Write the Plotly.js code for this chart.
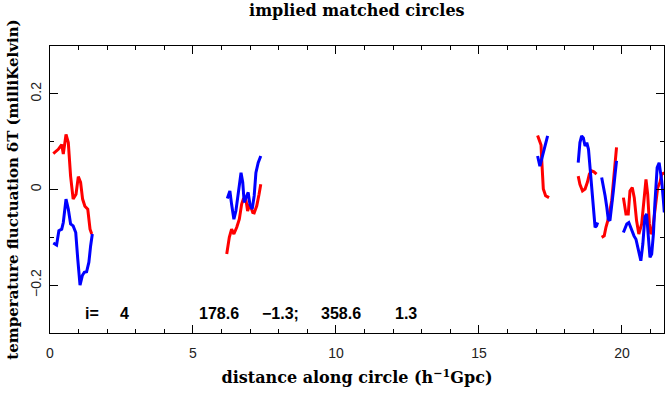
<!DOCTYPE html>
<html>
<head>
<meta charset="utf-8">
<script src="https://cdn.plot.ly/plotly-3.0.1.min.js"></script>
<style>html,body{margin:0;padding:0;background:#fff;}#chart{width:667px;height:394px;}</style>
</head>
<body>
<div id="chart"></div>
<script>
// red series (segments separated by null)
const redX = [0.115,0.29,0.41,0.465,0.56,0.64,0.72,0.81,0.91,0.99,1.07,1.14,1.22,1.32,1.40,1.46, null,
  6.18,6.27,6.35,6.43,6.53,6.62,6.70,6.76,6.84,6.91,6.99,7.09,7.14,7.23,7.31,7.37, null,
  17.05,17.17,17.19,17.21,17.25,17.33,17.45, null,
  18.47,18.53,18.62,18.71,18.79,18.86,18.94,19.02,19.11, null,
  19.29,19.38,19.44,19.52,19.64,19.73,19.81, null,
  20.05,20.14,20.22,20.28,20.36,20.43,20.51,20.59,20.69,20.78,20.84,20.90,20.96,21.01,21.07,21.15,21.25,21.33,21.39,21.48];
const redY = [0.075,0.084,0.094,0.074,0.115,0.098,0.028,-0.02,-0.01,0.027,0.015,-0.02,-0.035,-0.041,-0.083,-0.093, null,
  -0.135,-0.1,-0.083,-0.093,-0.079,-0.062,-0.031,-0.02,-0.017,-0.045,-0.031,-0.048,-0.049,-0.034,-0.01,0.011, null,
  0.113,0.093,0.067,0.032,0.001,-0.013,-0.017, null,
  0.028,0.011,-0.003,0.001,0.015,0.032,0.039,0.037,0.032, null,
  -0.1,-0.097,-0.079,-0.062,-0.024,0.032,0.088, null,
  -0.017,-0.051,-0.051,-0.003,0.004,-0.017,-0.065,-0.093,-0.072,-0.024,0.021,-0.01,-0.072,-0.093,-0.086,-0.045,0.004,0.015,0.032,0.035];

// blue series
const blueX = [0.115,0.23,0.31,0.41,0.465,0.56,0.64,0.72,0.81,0.90,0.97,1.05,1.13,1.20,1.28,1.36,1.42,1.48, null,
  6.20,6.29,6.35,6.43,6.50,6.58,6.68,6.74,6.79,6.88,6.93,6.99,7.07,7.14,7.20,7.28,7.37, null,
  17.05,17.13,17.40, null,
  18.47,18.53,18.59,18.65,18.71,18.77,18.83,18.88,18.94,19.0,19.06,19.11,19.15, null,
  19.29,19.35,19.41,19.47,19.52,19.58,19.64,19.70,19.76,19.81, null,
  20.05,20.17,20.24,20.34,20.42,20.49,20.57,20.66,20.73,20.80,20.86,20.92,20.98,21.04,21.10,21.15,21.23,21.30,21.39,21.45,21.48];
const blueY = [-0.112,-0.116,-0.086,-0.083,-0.069,-0.02,-0.041,-0.072,-0.076,-0.09,-0.145,-0.2,-0.18,-0.173,-0.172,-0.152,-0.118,-0.093, null,
  -0.019,-0.003,-0.031,-0.062,-0.045,-0.006,0.035,0.015,-0.027,-0.013,-0.006,-0.031,-0.041,-0.013,0.035,0.056,0.07, null,
  0.07,0.049,0.112, null,
  0.056,0.098,0.112,0.108,0.091,0.098,0.084,0.049,0.001,-0.041,-0.079,-0.076,-0.069, null,
  0.025,0.008,-0.013,-0.037,-0.062,-0.065,-0.037,-0.003,0.032,0.06, null,
  -0.09,-0.072,-0.069,-0.086,-0.097,-0.104,-0.128,-0.149,-0.114,-0.058,-0.051,-0.093,-0.142,-0.135,-0.093,-0.031,0.046,0.056,0.018,-0.024,-0.048];

// info line labels
const infoLabels = ["i=", "4", "178.6", "\u22121.3;", "358.6", "1.3"];
const infoPos = [1.15, 2.38, 5.14, 7.34, 9.41, 11.99];

const serif = "DejaVu Serif, serif";
const sans = "Liberation Sans, Arial, sans-serif";

const traces = [
  {x: redX, y: redY, type: 'scatter', mode: 'lines', connectgaps: false,
   line: {color: '#ff0000', width: 3}, hoverinfo: 'skip', showlegend: false},
  {x: blueX, y: blueY, type: 'scatter', mode: 'lines', connectgaps: false,
   line: {color: '#0000ff', width: 3}, hoverinfo: 'skip', showlegend: false}
];

const annotations = infoLabels.map((t, i) => ({
  x: infoPos[i], y: -0.26, xref: 'x', yref: 'y', text: t, showarrow: false,
  xanchor: 'left', yanchor: 'middle',
  font: {family: sans, size: 16, color: '#000', weight: 'bold'}
}));

const layout = {
  width: 667, height: 394,
  margin: {l: 50, r: 3, t: 46, b: 61, pad: 0},
  paper_bgcolor: '#fff', plot_bgcolor: '#fff',
  title: {text: 'implied matched circles', x: 0.535, xanchor: 'center', y: 0.973, yanchor: 'middle',
    font: {family: serif, size: 16, color: '#000', weight: 'bold'}},
  xaxis: {
    range: [0, 21.47], showline: true, mirror: 'ticks', linecolor: '#000', linewidth: 1,
    ticks: 'inside', ticklen: 8, tickcolor: '#000', tickwidth: 1, tick0: 0, dtick: 5,
    minor: {ticks: 'inside', ticklen: 4, dtick: 1, tickcolor: '#000', showgrid: false},
    showgrid: false, zeroline: false, ticklabelstandoff: 7,
    tickfont: {family: sans, size: 14, color: '#222'},
    title: {text: 'distance along circle (h<sup>\u22121</sup>Gpc)', standoff: 12,
      font: {family: serif, size: 16, color: '#000', weight: 'bold'}}
  },
  yaxis: {
    range: [-0.3, 0.3], showline: true, mirror: 'ticks', linecolor: '#000', linewidth: 1,
    ticks: 'inside', ticklen: 8, tickcolor: '#000', tickwidth: 1, tick0: 0, dtick: 0.2,
    minor: {ticks: 'inside', ticklen: 4, dtick: 0.1, tickcolor: '#000', showgrid: false},
    showgrid: false, zeroline: false, tickangle: -90, ticklabelstandoff: 2,
    tickfont: {family: sans, size: 14, color: '#222'},
    title: {text: 'temperature fluctuation \u03b4T (milliKelvin)', standoff: 6,
      font: {family: serif, size: 15, color: '#000', weight: 'bold'}}
  },
  annotations: annotations
};

Plotly.newPlot('chart', traces, layout, {displayModeBar: false, staticPlot: true});
</script>
</body>
</html>
